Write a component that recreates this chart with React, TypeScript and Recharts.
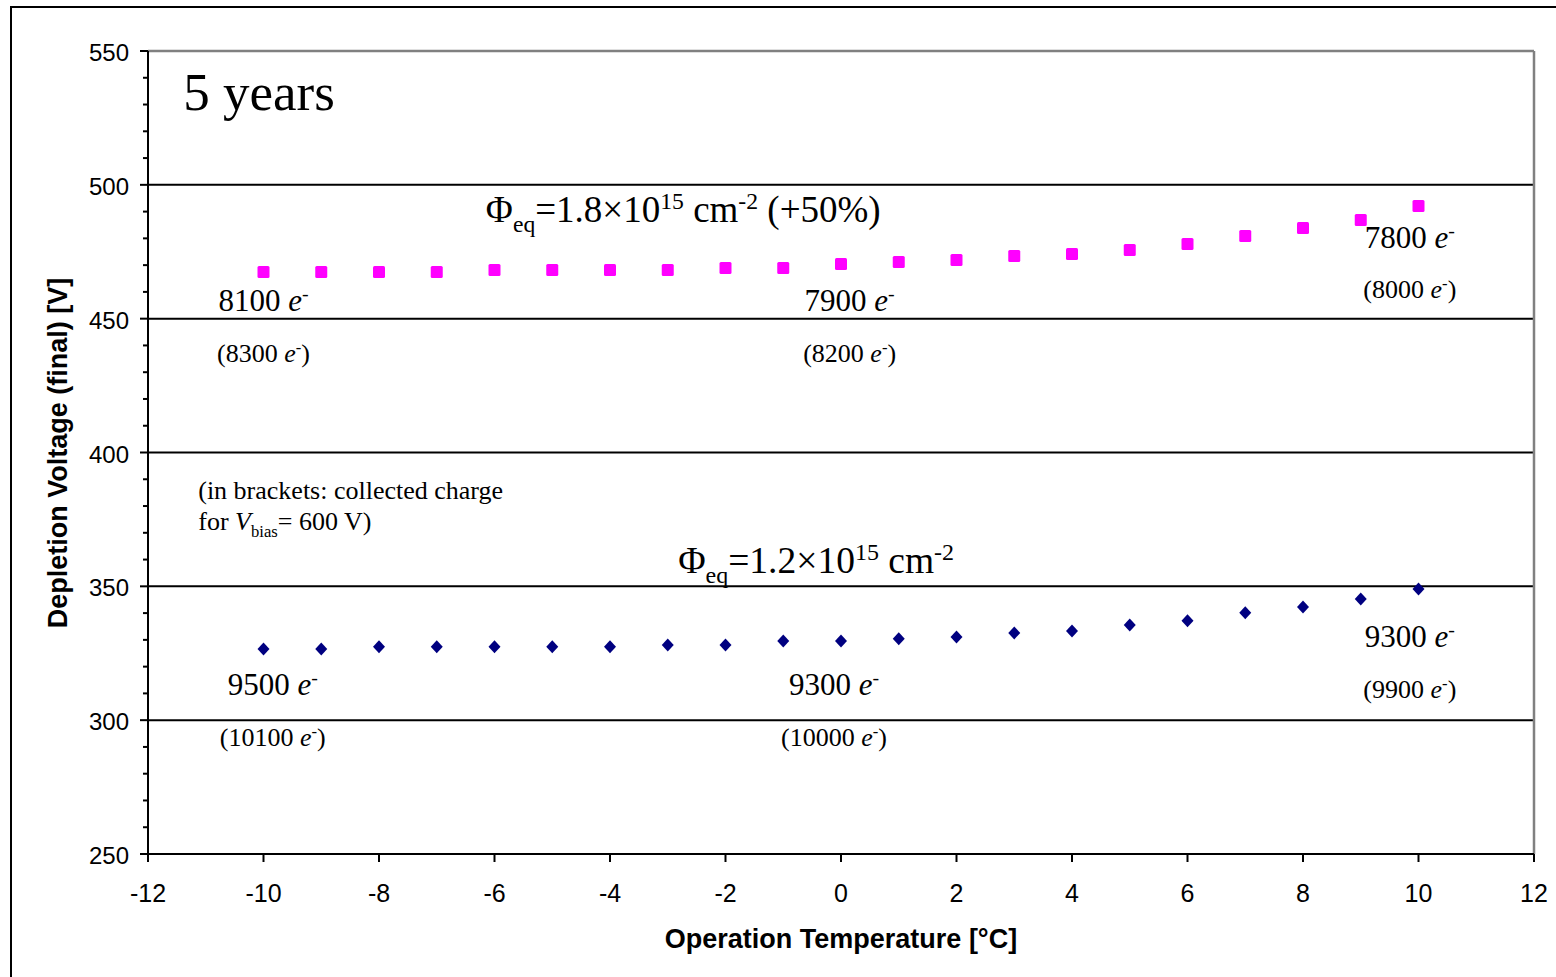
import React from 'react';
import { ScatterChart, Scatter, XAxis, YAxis, ReferenceLine, ReferenceDot } from 'recharts';

// ---- data ----
const temperatures = [-10, -9, -8, -7, -6, -5, -4, -3, -2, -1, 0, 1, 2, 3, 4, 5, 6, 7, 8, 9, 10];
const voltageHigh = [467.4, 467.4, 467.4, 467.4, 468.2, 468.2, 468.2, 468.2, 468.9, 468.9, 470.4, 471.2, 471.9, 473.4, 474.2, 475.7, 477.9, 480.9, 483.9, 486.9, 492.1];
const voltageLow = [326.6, 326.6, 327.4, 327.4, 327.4, 327.4, 327.4, 328.1, 328.1, 329.6, 329.6, 330.4, 331.1, 332.6, 333.3, 335.6, 337.1, 340.1, 342.3, 345.3, 349.0];
const xTicks = [-12, -10, -8, -6, -4, -2, 0, 2, 4, 6, 8, 10, 12];
const yTicks = [250, 260, 270, 280, 290, 300, 310, 320, 330, 340, 350, 360, 370, 380, 390, 400, 410, 420, 430, 440, 450, 460, 470, 480, 490, 500, 510, 520, 530, 540, 550];
const gridValues = [300, 350, 400, 450, 500];

const highData = temperatures.map((t, i) => ({ t, v: voltageHigh[i] }));
const lowData = temperatures.map((t, i) => ({ t, v: voltageLow[i] }));

type Seg = { t: string; i?: boolean; s?: 'sup' | 'sub' };
type Ann = { x: number; y: number; size: number; anchor: 'start' | 'middle'; segs: Seg[] };

const e = (n: string): Seg[] => [{ t: n + ' ' }, { t: 'e', i: true }, { t: '-', s: 'sup' }];
const eb = (n: string): Seg[] => [{ t: '(' + n + ' ' }, { t: 'e', i: true }, { t: '-', s: 'sup' }, { t: ')' }];

const annotations: Ann[] = [
  { x: -11.39, y: 528, size: 53, anchor: 'start', segs: [{ t: '5 years' }] },
  {
    x: -6.15, y: 486.1, size: 37, anchor: 'start',
    segs: [{ t: 'Φ' }, { t: 'eq', s: 'sub' }, { t: '=1.8×10' }, { t: '15', s: 'sup' }, { t: ' cm' }, { t: '-2', s: 'sup' }, { t: ' (+50%)' }],
  },
  { x: -10, y: 452.9, size: 31, anchor: 'middle', segs: e('8100') },
  { x: -10, y: 433.8, size: 26, anchor: 'middle', segs: eb('8300') },
  { x: 0.15, y: 452.9, size: 31, anchor: 'middle', segs: e('7900') },
  { x: 0.15, y: 433.8, size: 26, anchor: 'middle', segs: eb('8200') },
  { x: 9.85, y: 476.4, size: 31, anchor: 'middle', segs: e('7800') },
  { x: 9.85, y: 457.7, size: 26, anchor: 'middle', segs: eb('8000') },
  { x: -11.13, y: 382.6, size: 26, anchor: 'start', segs: [{ t: '(in brackets: collected charge' }] },
  { x: -11.13, y: 371.0, size: 26, anchor: 'start', segs: [{ t: 'for ' }, { t: 'V', i: true }, { t: 'bias', s: 'sub' }, { t: '= 600 V)' }] },
  {
    x: -2.82, y: 355.0, size: 37.5, anchor: 'start',
    segs: [{ t: 'Φ' }, { t: 'eq', s: 'sub' }, { t: '=1.2×10' }, { t: '15', s: 'sup' }, { t: ' cm' }, { t: '-2', s: 'sup' }],
  },
  { x: -9.84, y: 309.4, size: 31, anchor: 'middle', segs: e('9500') },
  { x: -9.84, y: 290.4, size: 26, anchor: 'middle', segs: eb('10100') },
  { x: -0.12, y: 309.4, size: 31, anchor: 'middle', segs: e('9300') },
  { x: -0.12, y: 290.4, size: 26, anchor: 'middle', segs: eb('10000') },
  { x: 9.85, y: 327.4, size: 31, anchor: 'middle', segs: e('9300') },
  { x: 9.85, y: 308.3, size: 26, anchor: 'middle', segs: eb('9900') },
];

const SERIF = '"Liberation Serif", "Times New Roman", serif';
const SANS = '"Liberation Sans", Arial, sans-serif';

function renderSegs(segs: Seg[], fs: number) {
  let off = 0;
  return segs.map((sg, k) => {
    const target = sg.s === 'sup' ? -0.34 * fs : sg.s === 'sub' ? 0.28 * fs : 0;
    const dy = target - off;
    off = target;
    return (
      <tspan key={k} dy={dy} fontStyle={sg.i ? 'italic' : 'normal'} fontSize={sg.s ? fs * 0.64 : fs}>
        {sg.t}
      </tspan>
    );
  });
}

const makeAnnShape = (a: Ann) => (p: any) => (
  <text
    x={p.cx}
    y={p.cy}
    textAnchor={a.anchor}
    fontFamily={SERIF}
    fontSize={a.size}
    fill="#000"
    style={{ whiteSpace: 'pre' }}
  >
    {renderSegs(a.segs, a.size)}
  </text>
);

const YTick = (p: any) => {
  const v = p.payload.value;
  const major = v % 50 === 0;
  return (
    <g>
      <line x1={p.x - (major ? 8 : 5)} x2={p.x} y1={p.y} y2={p.y} stroke="#000" strokeWidth={2} />
      {major && (
        <text x={p.x - 19} y={p.y} dy={10} textAnchor="end" fontFamily={SANS} fontSize={24} fill="#000">
          {v}
        </text>
      )}
    </g>
  );
};

const Square = (p: any) => <rect x={p.cx - 6} y={p.cy - 6} width={12} height={12} rx={1.5} fill="#FF00FF" />;
const Diamond = (p: any) => (
  <polygon
    points={`${p.cx},${p.cy - 6.5} ${p.cx + 6},${p.cy} ${p.cx},${p.cy + 6.5} ${p.cx - 6},${p.cy}`}
    fill="#000080"
  />
);

export default function App() {
  return (
    <div style={{ position: 'absolute', left: 0, top: 0, width: 1556, height: 977, overflow: 'hidden', background: '#fff' }}>
      <div
        style={{
          position: 'absolute', left: 10, top: 6, width: 1600, height: 1000,
          border: '2px solid #000', boxSizing: 'border-box',
        }}
      />
      <div style={{ position: 'absolute', left: 0, top: 0 }}>
        <ScatterChart width={1556} height={977} margin={{ top: 51, right: 22, left: 88, bottom: 63 }}>
          <XAxis
            type="number"
            dataKey="t"
            domain={[-12, 12]}
            ticks={xTicks}
            interval={0}
            height={60}
            tickSize={8}
            tickMargin={22}
            axisLine={{ stroke: '#000', strokeWidth: 2 }}
            tickLine={{ stroke: '#000', strokeWidth: 2 }}
            tick={{ fill: '#000', fontFamily: SANS, fontSize: 25 }}
            allowDataOverflow
          />
          <YAxis
            type="number"
            dataKey="v"
            domain={[250, 550]}
            ticks={yTicks}
            interval={0}
            width={60}
            tickSize={0}
            tickMargin={0}
            tickLine={false}
            tick={YTick}
            axisLine={{ stroke: '#000', strokeWidth: 2 }}
            allowDataOverflow
          />
          {gridValues.map((g) => (
            <ReferenceLine key={g} y={g} stroke="#000" strokeWidth={2} />
          ))}
          <ReferenceLine y={550} stroke="#808080" strokeWidth={2.5} />
          <ReferenceLine x={12} stroke="#808080" strokeWidth={2.5} />
          <Scatter data={highData} shape={Square} isAnimationActive={false} />
          <Scatter data={lowData} shape={Diamond} isAnimationActive={false} />
          {annotations.map((a, i) => (
            <ReferenceDot key={i} x={a.x} y={a.y} r={0} shape={makeAnnShape(a)} ifOverflow="visible" />
          ))}
        </ScatterChart>
      </div>
      <svg width={1556} height={977} style={{ position: 'absolute', left: 0, top: 0, pointerEvents: 'none' }}>
        <text x={841} y={948} textAnchor="middle" fontFamily={SANS} fontWeight="bold" fontSize={27} fill="#000">
          Operation Temperature [°C]
        </text>
        <text
          x={67}
          y={453}
          textAnchor="middle"
          fontFamily={SANS}
          fontWeight="bold"
          fontSize={27}
          fill="#000"
          transform="rotate(-90 67 453)"
        >
          Depletion Voltage (final) [V]
        </text>
      </svg>
    </div>
  );
}
